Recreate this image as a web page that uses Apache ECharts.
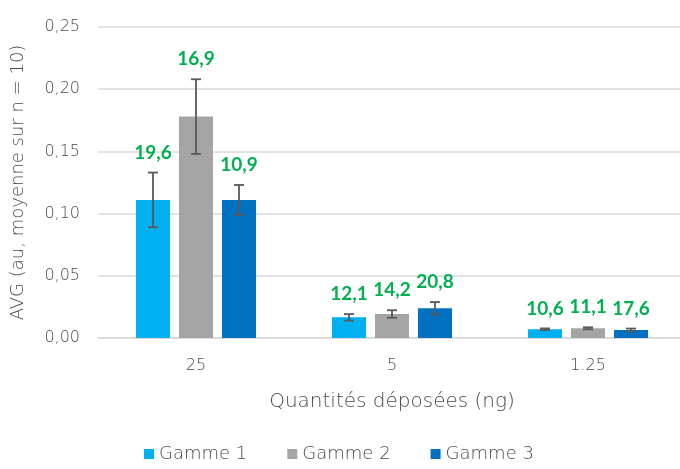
<!DOCTYPE html>
<html><head><meta charset="utf-8">
<script src="https://cdn.jsdelivr.net/npm/echarts@6/dist/echarts.min.js"></script>
<style>html,body{margin:0;padding:0;background:#fff}#c{width:680px;height:469px}</style>
</head><body><div id="c"></div>
<script>
const categories = ['25', '5', '1.25'];
const seriesNames = ['Gamme 1', 'Gamme 2', 'Gamme 3'];
const gamme1 = [0.111, 0.0166, 0.0070];
const gamme2 = [0.178, 0.0193, 0.0078];
const gamme3 = [0.111, 0.0239, 0.0064];
const err1 = [0.022, 0.0026, 0.0007];
const err2 = [0.030, 0.0030, 0.0008];
const err3 = [0.012, 0.0050, 0.0012];
const cv1 = ['19,6', '12,1', '10,6'];
const cv2 = ['16,9', '14,2', '11,1'];
const cv3 = ['10,9', '20,8', '17,6'];
const yTicks = { min: 0, max: 0.25, interval: 0.05 };

const values = [gamme1, gamme2, gamme3];
const errs = [err1, err2, err3];
const cvs = [cv1, cv2, cv3];
const colors = ['#00B0F0', '#A5A5A5', '#0070C0'];
const FONT = '"DejaVu Sans", sans-serif';
const LFONT = 'Lato, "DejaVu Sans", sans-serif';
const W = 200;
const TXT = '#4a4a4a';
const BAR_W = 34, GAP = 9;

const chart = echarts.init(document.getElementById('c'), null, { renderer: 'canvas' });

const barSeries = seriesNames.map((n, i) => ({
  name: n, type: 'bar', data: values[i], barWidth: BAR_W, barGap: (GAP / BAR_W * 100) + '%',
  itemStyle: { color: colors[i] }, z: 2
}));

const errSeries = seriesNames.map((n, i) => ({
  type: 'custom', name: n + ' err', silent: true, z: 5,
  data: categories.map((c, k) => [k, values[i][k], errs[i][k], cvs[i][k]]),
  renderItem: function (params, api) {
    const k = api.value(0), v = api.value(1), e = api.value(2);
    const off = (i - 1) * (BAR_W + GAP);
    const top = api.coord([k, v + e]);
    const bot = api.coord([k, v - e]);
    const x = top[0] + off;
    const cap = 5;
    const st = { stroke: '#595959', lineWidth: 1.8 };
    return {
      type: 'group', children: [
        { type: 'line', shape: { x1: x, y1: top[1], x2: x, y2: bot[1] }, style: st },
        { type: 'line', shape: { x1: x - cap, y1: top[1], x2: x + cap, y2: top[1] }, style: st },
        { type: 'line', shape: { x1: x - cap, y1: bot[1], x2: x + cap, y2: bot[1] }, style: st },
        { type: 'text', x: x, y: top[1] - 20, style: {
          text: api.value(3), fill: '#00B050', font: 'bold 19px ' + LFONT,
          textAlign: 'center', textVerticalAlign: 'middle' } }
      ]
    };
  }
}));

chart.setOption({
  animation: false,
  backgroundColor: '#fff',
  textStyle: { fontFamily: FONT, fontWeight: W },
  grid: { left: 98, right: -6, top: 27, bottom: 131, containLabel: false, outerBoundsMode: 'none' },
  legend: {
    data: seriesNames, bottom: 1, left: 139, itemWidth: 10, itemHeight: 10, itemGap: 40,
    icon: 'rect', textStyle: { color: TXT, fontSize: 18, fontFamily: FONT, fontWeight: W }
  },
  xAxis: {
    type: 'category', data: categories,
    name: 'Quantités déposées (ng)', nameLocation: 'middle', nameGap: 54,
    nameTextStyle: { color: TXT, fontSize: 20, fontFamily: FONT, fontWeight: W },
    axisLine: { lineStyle: { color: '#D9D9D9', width: 1.5 } },
    axisTick: { show: false },
    axisLabel: { color: TXT, fontSize: 16, margin: 20, fontWeight: W }
  },
  yAxis: {
    type: 'value', min: yTicks.min, max: yTicks.max, interval: yTicks.interval,
    name: 'AVG (au, moyenne sur n = 10)', nameLocation: 'middle', nameGap: 71, nameRotate: 90,
    nameTextStyle: { color: TXT, fontSize: 18, fontFamily: FONT, fontWeight: W },
    axisLine: { show: false }, axisTick: { show: false },
    axisLabel: { color: TXT, fontSize: 16, margin: 18, fontWeight: W,
      formatter: v => v.toFixed(2).replace('.', ',') },
    splitLine: { lineStyle: { color: '#D9D9D9', width: 1.5 } }
  },
  series: [...barSeries, ...errSeries]
});
</script></body></html>
